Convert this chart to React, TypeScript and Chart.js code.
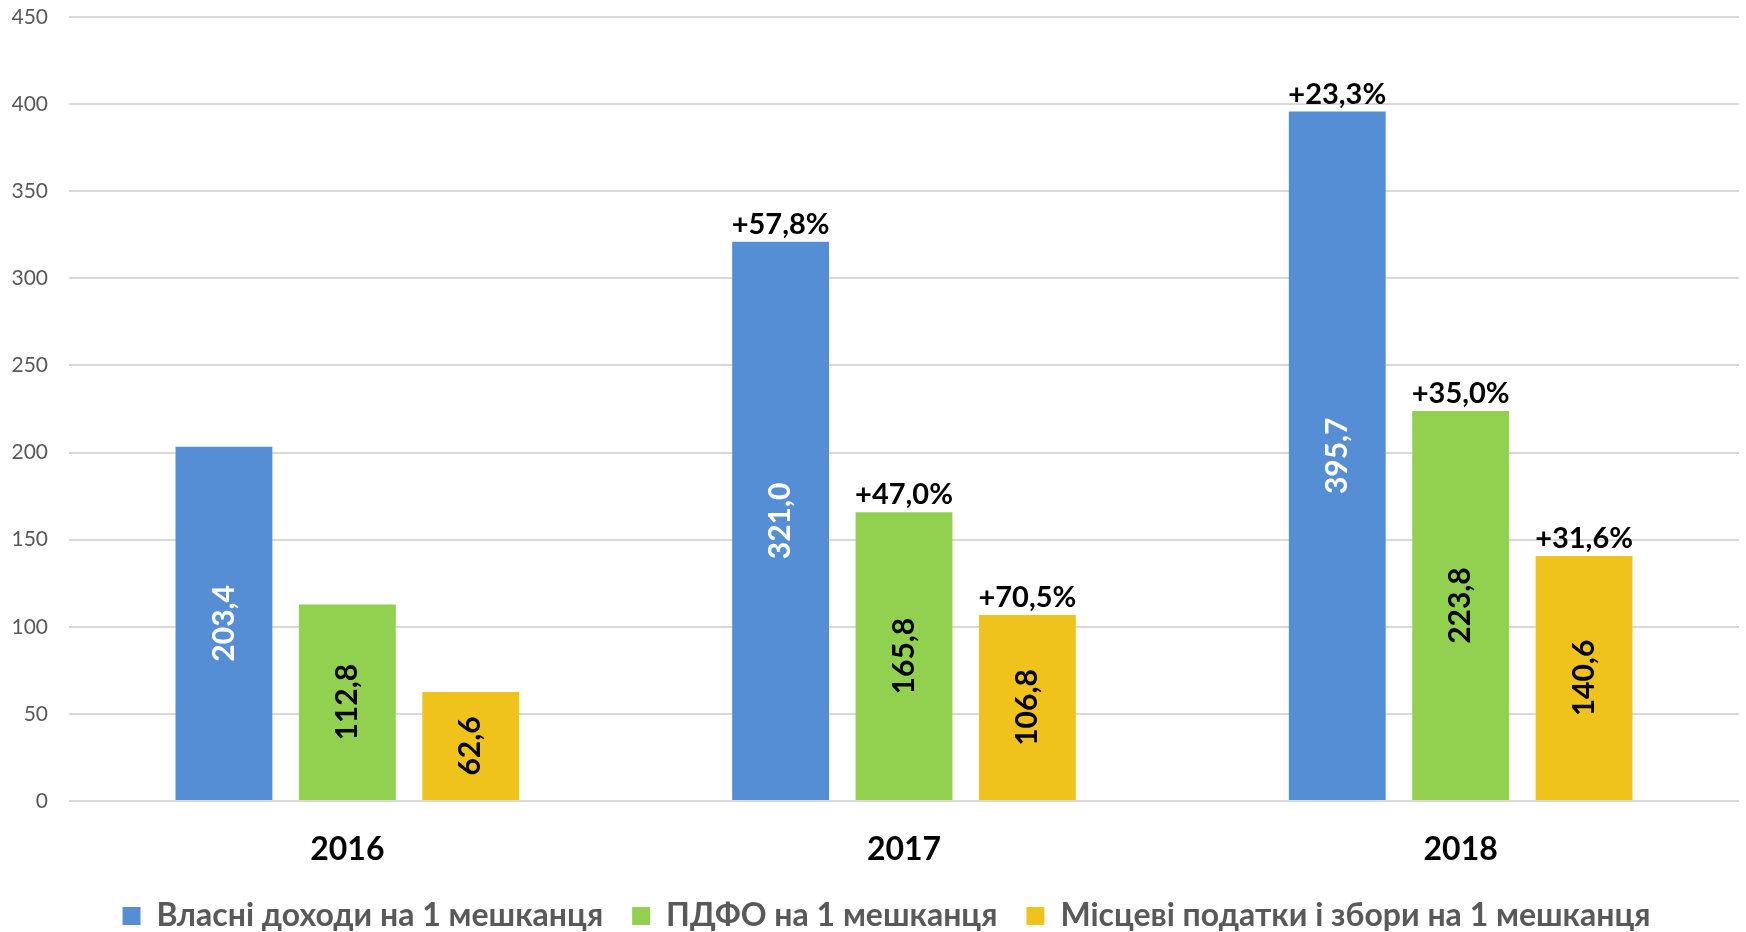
import React, { useEffect, useRef } from "react";
import { Chart, registerables } from "chart.js";

Chart.register(...registerables);

const years = ["2016", "2017", "2018"];
const seriesNames = [
  "Власні доходи на 1 мешканця",
  "ПДФО на 1 мешканця",
  "Місцеві податки і збори на 1 мешканця",
];
const ownIncome = [203.4, 321.0, 395.7];
const pdfo = [112.8, 165.8, 223.8];
const localTaxes = [62.6, 106.8, 140.6];
const ownIncomeGrowth = ["", "+57,8%", "+23,3%"];
const pdfoGrowth = ["", "+47,0%", "+35,0%"];
const localTaxesGrowth = ["", "+70,5%", "+31,6%"];
const yTicks = [0, 50, 100, 150, 200, 250, 300, 350, 400, 450];

const colors = ["#558ED5", "#92D050", "#F0C31C"];
const valueColors = ["#FFFFFF", "#000000", "#000000"];
const growthLabels = [ownIncomeGrowth, pdfoGrowth, localTaxesGrowth];

const FONT = "Lato";
const LEGEND_SHIFT_X = 17;

const labelPlugin = {
  id: "barLabels",
  afterDatasetsDraw(chart: any) {
    const ctx = chart.ctx;
    chart.data.datasets.forEach((ds: any, di: number) => {
      const meta = chart.getDatasetMeta(di);
      meta.data.forEach((bar: any, i: number) => {
        const v = ds.data[i];
        const txt = v.toFixed(1).replace(".", ",");
        const cy = (bar.y + bar.base) / 2;
        ctx.save();
        ctx.translate(bar.x, cy);
        ctx.rotate(-Math.PI / 2);
        ctx.font = `bold 30px ${FONT}`;
        ctx.fillStyle = valueColors[di];
        ctx.textAlign = "center";
        ctx.textBaseline = "middle";
        ctx.fillText(txt, 0, 0);
        ctx.restore();
        const g = growthLabels[di][i];
        if (g) {
          ctx.save();
          ctx.font = `bold 29px ${FONT}`;
          ctx.fillStyle = "#000000";
          ctx.textAlign = "center";
          ctx.textBaseline = "alphabetic";
          ctx.fillText(g, bar.x, bar.y - 8);
          ctx.restore();
        }
      });
    });
  },
};

const legendShiftPlugin = {
  id: "legendShift",
  afterLayout(chart: any) {
    const lg = chart.legend;
    if (!lg) return;
    lg.left += LEGEND_SHIFT_X;
    lg.right += LEGEND_SHIFT_X;
  },
};

export default function App() {
  const ref = useRef<HTMLCanvasElement | null>(null);
  useEffect(() => {
    if (!ref.current) return;
    const chart = new Chart(ref.current, {
      type: "bar",
      data: {
        labels: years,
        datasets: [ownIncome, pdfo, localTaxes].map((d, i) => ({
          label: seriesNames[i],
          data: d,
          backgroundColor: colors[i],
          categoryPercentage: 0.665,
          barPercentage: 0.785,
        })),
      },
      options: {
        animation: false,
        responsive: false,
        maintainAspectRatio: false,
        layout: { padding: { top: 17, right: 7, left: 0, bottom: -10 } },
        plugins: {
          tooltip: { enabled: false },
          legend: {
            position: "bottom",
            labels: {
              font: { family: FONT, size: 32, weight: "bold" },
              color: "#595959",
              boxWidth: 18,
              boxHeight: 18,
              padding: 29,
            },
          },
        },
        scales: {
          x: {
            grid: { display: false, drawTicks: false },
            border: { display: false },
            afterFit(scale: any) {
              scale.height = 70;
            },
            ticks: {
              color: "#000000",
              font: { family: FONT, size: 32, weight: "bold", lineHeight: 1 },
              padding: 33,
            },
          },
          y: {
            min: 0,
            max: 450,
            afterFit(scale: any) {
              scale.width = 69;
              scale.paddingTop = 0;
              scale.paddingBottom = 0;
            },
            afterBuildTicks(scale: any) {
              scale.ticks = yTicks.map((v) => ({ value: v }));
            },
            grid: { color: "#D9D9D9", lineWidth: 2, drawTicks: false },
            border: { display: false },
            ticks: {
              color: "#595959",
              font: { family: FONT, size: 21 },
              padding: 21,
            },
          },
        },
      },
      plugins: [labelPlugin, legendShiftPlugin],
    });
    return () => chart.destroy();
  }, []);
  return (
    <div style={{ position: "fixed", left: 0, top: 0, width: 1746, height: 932, background: "#fff" }}>
      <canvas ref={ref} width={1746} height={932} style={{ width: 1746, height: 932 }} />
    </div>
  );
}
